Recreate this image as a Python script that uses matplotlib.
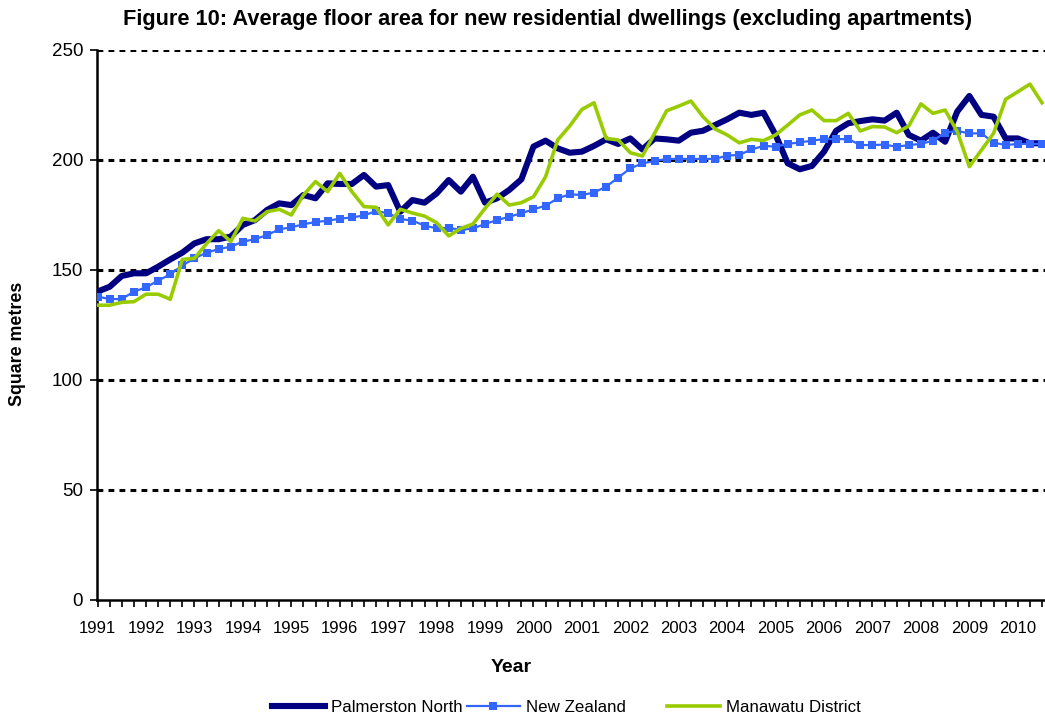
import matplotlib
matplotlib.use("Agg")
import matplotlib.pyplot as plt
import numpy as np

plt.rcParams['font.family'] = ['Liberation Sans', 'DejaVu Sans']

years = [str(y) for y in range(1991, 2011)]

palmerston_north = [
    140.2, 142.4, 147.3, 148.5, 148.5, 151.5, 154.8, 157.9, 162.1, 164.0,
    164.0, 165.2, 170.5, 172.7, 177.3, 180.3, 179.5, 184.1, 182.6, 189.4,
    189.1, 189.1, 193.2, 187.9, 188.6, 176.5, 181.8, 180.6, 184.8, 190.9,
    185.6, 192.4, 180.6, 182.6, 186.4, 191.2, 206.1, 208.8, 205.3, 203.3,
    203.8, 206.4, 209.4, 207.3, 209.8, 204.8, 209.8, 209.4, 208.8, 212.4,
    213.3, 215.9, 218.5, 221.5, 220.5, 221.5, 211.4, 198.5, 195.8, 197.3,
    203.8, 213.3, 216.7, 217.7, 218.5, 217.9, 221.5, 211.4, 208.8, 212.4,
    208.3, 222.0, 229.1, 220.5, 219.7, 209.8, 209.8, 207.6, 207.6]

new_zealand = [
    137.9, 136.8, 136.8, 140.2, 142.1, 145.2, 148.0, 152.1, 155.3, 157.9,
    159.5, 160.6, 162.9, 164.0, 165.9, 168.5, 169.4, 170.8, 171.8, 172.4,
    173.3, 173.9, 174.8, 176.8, 175.8, 173.2, 172.4, 170.2, 168.9, 169.2,
    168.2, 168.9, 170.9, 172.7, 174.2, 175.8, 177.6, 179.2, 182.6, 184.4,
    184.1, 185.2, 187.9, 192.0, 196.2, 198.5, 199.5, 200.5, 200.5, 200.5,
    200.5, 200.5, 202.0, 202.3, 204.8, 206.4, 206.1, 207.3, 208.0, 208.8,
    209.5, 209.5, 209.5, 206.8, 206.8, 207.0, 206.0, 206.8, 207.3, 208.8,
    212.4, 213.2, 212.1, 212.1, 207.9, 206.8, 207.3, 207.3, 207.3]

manawatu_district = [
    134.0, 134.0, 135.3, 135.6, 139.0, 139.0, 136.7, 154.8, 155.3, 162.0,
    167.9, 162.9, 173.5, 172.3, 176.5, 177.6, 175.0, 184.1, 190.2, 185.6,
    193.9, 185.6, 178.8, 178.5, 170.5, 177.6, 175.9, 174.5, 171.5, 165.5,
    168.9, 170.9, 178.0, 184.5, 179.5, 180.6, 183.3, 192.4, 209.1, 215.5,
    223.0, 226.0, 209.8, 209.1, 203.3, 201.8, 212.1, 222.4, 224.5, 226.8,
    219.7, 214.1, 211.4, 207.8, 209.4, 208.8, 211.4, 215.9, 220.5, 222.7,
    217.9, 217.9, 221.2, 213.2, 215.2, 215.0, 212.4, 215.5, 225.5, 221.2,
    222.7, 212.9, 197.0, 204.5, 212.1, 227.6, 231.0, 234.5, 226.0]

series_names = ["Palmerston North", "New Zealand", "Manawatu District"]
y_ticks = [0, 50, 100, 150, 200, 250]

W, H = 1045, 719
fig = plt.figure(figsize=(W / 100, H / 100), dpi=100)
ax = fig.add_axes([97 / W, (H - 600) / H, (1045 - 97) / W, 550 / H])

x = np.arange(len(palmerston_north))

# gridlines
for yv in y_ticks[1:]:
    ax.axhline(yv, color='black', lw=2.2, linestyle=(0, (1.9, 1.7)),
               dash_capstyle='butt', zorder=1)

l1, = ax.plot(x, palmerston_north, color='#000080', lw=4.4, zorder=3,
              solid_joinstyle='round')
l2, = ax.plot(x, new_zealand, color='#3366FF', lw=1.6, marker='s',
              markersize=5.8, markeredgewidth=0, zorder=4)
l3, = ax.plot(x, manawatu_district, color='#99CC00', lw=2.6, zorder=5,
              solid_joinstyle='round')

ax.set_xlim(-0.05, len(x) - 0.75)
ax.set_ylim(0, 250)
ax.set_yticks(y_ticks)
ax.set_yticklabels([str(v) for v in y_ticks], fontsize=13.5)

ax.set_xticks(np.arange(0, len(x), 4))
ax.set_xticklabels(years, fontsize=12)
ax.set_xticks(x, minor=True)
ax.tick_params(axis='x', which='both', direction='out', length=5, width=1.2,
               pad=10, color='black')
ax.tick_params(axis='y', direction='out', length=5, width=1.2, pad=5)

for s in ['top', 'right']:
    ax.spines[s].set_visible(False)
ax.spines['left'].set_linewidth(1.8)
ax.spines['bottom'].set_linewidth(1.8)

fig.text(548 / W, 1 - 20 / H,
         "Figure 10: Average floor area for new residential dwellings (excluding apartments)",
         ha='center', va='center', fontsize=15.7, fontweight='bold')
fig.text(18 / W, 1 - 344 / H, "Square metres", rotation=90, ha='center',
         va='center', fontsize=12.8, fontweight='bold')
fig.text(511 / W, 1 - 667 / H, "Year", ha='center', va='center',
         fontsize=14, fontweight='bold')

# legend entries anchored at their handle positions (equal-width entries)
for handle, name, hx in zip([l1, l2, l3], series_names, [272, 467, 667]):
    fig.legend([handle], [name], loc='center left',
               bbox_to_anchor=(hx / W, 1 - 707 / H), frameon=False,
               fontsize=12.2, handlelength=3.1, handletextpad=0.4,
               borderpad=0, borderaxespad=0, markerscale=0.9)

fig.savefig("out.png", dpi=100)
